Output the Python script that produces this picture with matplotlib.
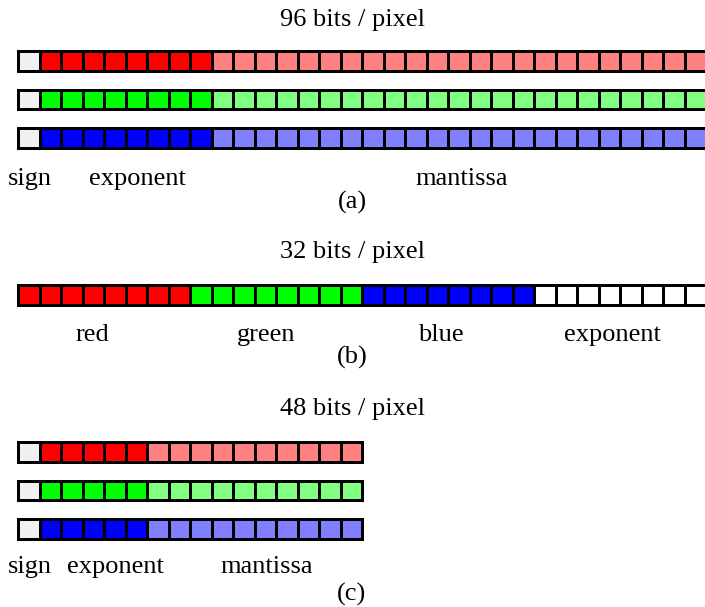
import matplotlib
matplotlib.use('Agg')
import matplotlib.pyplot as plt
from matplotlib.patches import Rectangle

# bit layouts: field names and number of bits per field
float_fields = ['sign', 'exponent', 'mantissa']
bits_96 = [1, 8, 23]   # per channel, 3 channels
bits_48 = [1, 5, 10]   # per channel, 3 channels
rgbe_fields = ['red', 'green', 'blue', 'exponent']
bits_32 = [8, 8, 8, 8]

titles = ['96 bits / pixel', '32 bits / pixel', '48 bits / pixel']
captions = ['(a)', '(b)', '(c)']

# label centres, measured in bits from the left end of the bar
label_pos_96 = [0.6, 5.6, 20.7]
label_pos_32 = [3.5, 11.6, 19.7, 27.7]
label_pos_48 = [0.6, 4.6, 11.6]

SIGN = '#f0f0f0'
DARK = {'red': '#ff0000', 'green': '#00ff00', 'blue': '#0000ff'}
LIGHT = {'red': '#ff8080', 'green': '#80ff80', 'blue': '#8080ff'}

# layout in pixels
X0 = 17.0      # left edge of every bar
PITCH = 21.5   # width of one bit
BORDER = 3.0
BAR_H = 22.5
FS = 19


def draw_bar(ax, top, colors):
    n = len(colors)
    ax.add_patch(Rectangle((X0, top), n * PITCH + BORDER, BAR_H,
                           facecolor='black', edgecolor='none'))
    for i, c in enumerate(colors):
        ax.add_patch(Rectangle((X0 + BORDER + i * PITCH, top + BORDER),
                               PITCH - BORDER, BAR_H - 2 * BORDER,
                               facecolor=c, edgecolor='none'))


def float_colors(bits, channel):
    fill = [SIGN, DARK[channel], LIGHT[channel]]
    out = []
    for nb, c in zip(bits, fill):
        out += [c] * nb
    return out


def labels(ax, names, pos, y):
    for name, p in zip(names, pos):
        ax.text(X0 + p * PITCH, y, name, ha='center', va='baseline',
                fontsize=FS)


plt.rcParams['font.family'] = ['Liberation Serif', 'DejaVu Serif']

fig = plt.figure(figsize=(7.05, 6.07), dpi=100)
ax = fig.add_axes([0, 0, 1, 1])
ax.set_xlim(0, 705)
ax.set_ylim(607, 0)
ax.axis('off')
cx = 352

# (a) 96 bits / pixel
ax.text(cx, 26, titles[0], ha='center', va='baseline', fontsize=FS)
for k, ch in enumerate(['red', 'green', 'blue']):
    draw_bar(ax, 50 + k * 38.5, float_colors(bits_96, ch))
labels(ax, float_fields, label_pos_96, 185)
ax.text(cx, 209, captions[0], ha='center', va='baseline', fontsize=FS)

# (b) 32 bits / pixel, shared exponent
ax.text(cx, 258, titles[1], ha='center', va='baseline', fontsize=FS)
rgbe_colors = []
for name, nb in zip(rgbe_fields, bits_32):
    rgbe_colors += [DARK.get(name, 'white')] * nb
draw_bar(ax, 284, rgbe_colors)
labels(ax, rgbe_fields, label_pos_32, 341)
ax.text(cx, 364, captions[1], ha='center', va='baseline', fontsize=FS)

# (c) 48 bits / pixel
ax.text(cx, 415, titles[2], ha='center', va='baseline', fontsize=FS)
for k, ch in enumerate(['red', 'green', 'blue']):
    draw_bar(ax, 441 + k * 38.5, float_colors(bits_48, ch))
labels(ax, float_fields, label_pos_48, 573)
ax.text(cx, 601, captions[2], ha='center', va='baseline', fontsize=FS)

fig.savefig('out.png', dpi=100)
plt.close(fig)
